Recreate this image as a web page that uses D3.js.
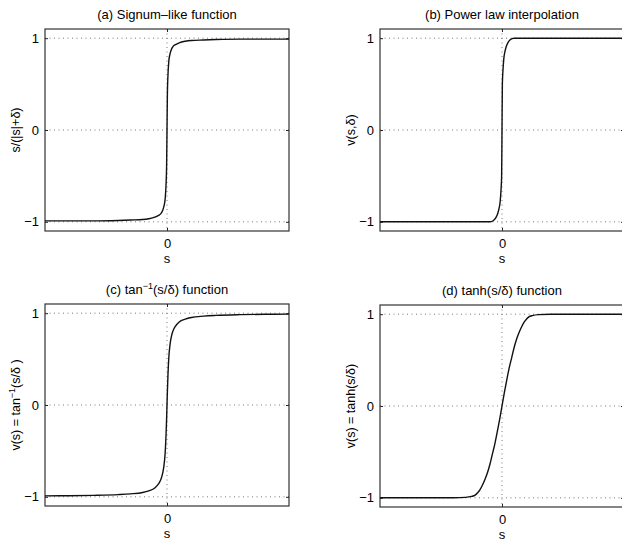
<!DOCTYPE html>
<html>
<head>
<meta charset="utf-8">
<script src="https://cdn.jsdelivr.net/npm/d3@7"></script>
<style>
  body { margin: 0; background: #fff; }
  svg { display: block; font-family: "Liberation Sans", Arial, sans-serif; }
  .tick text { font-size: 13px; fill: #000; }
</style>
</head>
<body>
<div id="chart"></div>
<script>
// values (s on [-1, 1])
const sA = [-1, -0.8, -0.6, -0.4, -0.3, -0.2, -0.15, -0.1, -0.07, -0.05, -0.035, -0.025, -0.015, -0.008, -0.003, 0,
            0.003, 0.008, 0.015, 0.025, 0.035, 0.05, 0.07, 0.1, 0.15, 0.2, 0.3, 0.4, 0.6, 0.8, 1];
const vA = [-0.99, -0.99, -0.99, -0.985, -0.98, -0.975, -0.967, -0.95, -0.93, -0.91, -0.875, -0.83, -0.75, -0.6, -0.37, 0,
            0.37, 0.6, 0.75, 0.83, 0.875, 0.91, 0.93, 0.95, 0.967, 0.975, 0.98, 0.985, 0.99, 0.99, 0.99];

const sB = [-1, -0.5, -0.1, -0.09, -0.07, -0.05, -0.035, -0.025, -0.015, -0.008, -0.003, 0,
            0.003, 0.008, 0.015, 0.025, 0.035, 0.05, 0.07, 0.09, 0.1, 0.5, 1];
const vB = [-1, -1, -1, -0.998, -0.985, -0.955, -0.91, -0.86, -0.78, -0.65, -0.5, 0,
            0.5, 0.65, 0.78, 0.86, 0.91, 0.955, 0.985, 0.998, 1, 1, 1];

const sC = [-1, -0.8, -0.6, -0.4, -0.3, -0.2, -0.15, -0.1, -0.07, -0.05, -0.035, -0.025, -0.015, -0.008, -0.003, 0,
            0.003, 0.008, 0.015, 0.025, 0.035, 0.05, 0.07, 0.1, 0.15, 0.2, 0.3, 0.4, 0.6, 0.8, 1];
const vC = [-0.99, -0.988, -0.984, -0.976, -0.968, -0.953, -0.935, -0.905, -0.86, -0.81, -0.74, -0.66, -0.52, -0.33, -0.14, 0,
            0.14, 0.33, 0.52, 0.66, 0.74, 0.81, 0.86, 0.905, 0.935, 0.953, 0.968, 0.976, 0.984, 0.988, 0.99];

const sD = [-1, -0.4, -0.3, -0.25, -0.22, -0.2, -0.18, -0.16, -0.14, -0.12, -0.1, -0.08, -0.06, -0.04, -0.02, 0,
            0.02, 0.04, 0.06, 0.08, 0.1, 0.12, 0.14, 0.16, 0.18, 0.2, 0.22, 0.25, 0.3, 0.4, 1];
const vD = [-1, -1, -0.995, -0.985, -0.97, -0.945, -0.91, -0.86, -0.8, -0.73, -0.64, -0.53, -0.42, -0.29, -0.15, 0,
            0.15, 0.29, 0.42, 0.53, 0.64, 0.73, 0.8, 0.86, 0.91, 0.945, 0.97, 0.985, 0.995, 1, 1];

const yTicks = [-1, 0, 1];
const xTicks = [0];

const panels = [
  {s: sA, v: vA, left: 45, top: 29, title: [["(a) Signum\u2013like function"]], ylab: [["s/(|s|+\u03b4)"]]},
  {s: sB, v: vB, left: 380, top: 29, title: [["(b) Power law interpolation"]], ylab: [["v(s,\u03b4)"]]},
  {s: sC, v: vC, left: 45, top: 304, title: [["(c) tan"], ["\u22121", "sup"], ["(s/\u03b4) function"]],
          ylab: [["v(s) = tan"], ["\u22121", "sup"], ["(s/\u03b4 )"]]},
  {s: sD, v: vD, left: 380, top: 305, title: [["(d) tanh(s/\u03b4) function"]], ylab: [["v(s) = tanh(s/\u03b4)"]]}
];

const W = 622, H = 541;
const pw = 244, ph = 202;

const svg = d3.select("#chart").append("svg")
    .attr("width", W)
    .attr("height", H);

function richText(sel, parts) {
  parts.forEach(p => {
    const t = sel.append("tspan").text(p[0]);
    if (p[1] === "sup") {
      t.attr("font-size", "9px").attr("dy", "-5");
    } else if (sel.selectAll("tspan").size() > 1) {
      t.attr("dy", "5");
    }
  });
}

panels.forEach(p => {
  const x = d3.scaleLinear().domain([-1, 1]).range([0, pw]);
  const y = d3.scaleLinear().domain([-1.1, 1.1]).range([ph, 0]);

  const g = svg.append("g").attr("transform", `translate(${p.left},${p.top})`);

  // dotted grid
  g.selectAll(".hgrid").data(yTicks).enter().append("line")
      .attr("x1", 0).attr("x2", pw)
      .attr("y1", d => y(d)).attr("y2", d => y(d))
      .attr("stroke", "#555").attr("stroke-width", 0.8)
      .attr("stroke-dasharray", "1,3.5");
  g.selectAll(".vgrid").data(xTicks).enter().append("line")
      .attr("x1", d => x(d)).attr("x2", d => x(d))
      .attr("y1", 0).attr("y2", ph)
      .attr("stroke", "#555").attr("stroke-width", 0.8)
      .attr("stroke-dasharray", "1,3.5");

  // axes with inward ticks
  g.append("g")
      .call(d3.axisLeft(y).tickValues(yTicks).tickSize(-3).tickPadding(6).tickFormat(d3.format("d")));
  g.append("g").attr("transform", `translate(${pw},0)`)
      .call(d3.axisRight(y).tickValues(yTicks).tickSize(-3).tickFormat(""));
  g.append("g").attr("transform", `translate(0,${ph})`)
      .call(d3.axisBottom(x).tickValues(xTicks).tickSize(-3).tickPadding(8).tickFormat(d3.format("d")));
  g.append("g")
      .call(d3.axisTop(x).tickValues(xTicks).tickSize(-3).tickFormat(""));
  g.selectAll(".domain").remove();
  g.selectAll(".tick line").attr("stroke", "#222");

  // frame
  g.append("rect")
      .attr("width", pw).attr("height", ph)
      .attr("fill", "none").attr("stroke", "#333").attr("stroke-width", 1.2);

  // curve
  const pts = p.s.map((s, i) => [s, p.v[i]]);
  g.append("path")
      .datum(pts)
      .attr("fill", "none")
      .attr("stroke", "#111")
      .attr("stroke-width", 1.4)
      .attr("d", d3.line().x(d => x(d[0])).y(d => y(d[1])).curve(d3.curveMonotoneX));

  // title
  const tt = g.append("text")
      .attr("x", pw / 2).attr("y", -10)
      .attr("text-anchor", "middle")
      .attr("font-size", "13px").attr("fill", "#000");
  richText(tt, p.title);

  // x label
  g.append("text")
      .attr("x", x(0)).attr("y", ph + 32)
      .attr("text-anchor", "middle")
      .attr("font-size", "13px").attr("fill", "#000")
      .text("s");

  // y label
  const yt = g.append("text")
      .attr("transform", `translate(-25,${ph / 2}) rotate(-90)`)
      .attr("text-anchor", "middle")
      .attr("font-size", "12.5px").attr("fill", "#000");
  richText(yt, p.ylab);
});
</script>
</body>
</html>
